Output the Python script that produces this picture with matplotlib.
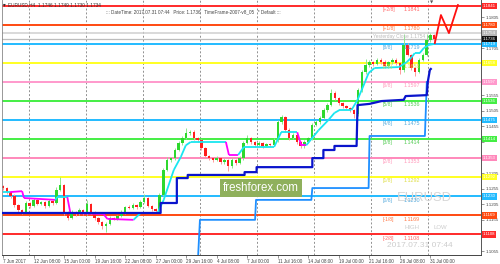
import numpy as np
import matplotlib.pyplot as plt
from matplotlib.collections import LineCollection

plt.rcParams['font.family'] = ['Liberation Sans', 'DejaVu Sans']

# H4 candles, one entry per 2 bars
closes = [
    1.1257, 1.1244, 1.1232, 1.1203, 1.1187, 1.1180, 1.1209, 1.1200, 1.1219, 1.1206,
    1.1212, 1.1200, 1.1216, 1.1209, 1.1251, 1.1267, 1.1180, 1.1161, 1.1180, 1.1174,
    1.1187, 1.1174, 1.1206, 1.1180, 1.1161, 1.1148, 1.1135, 1.1142, 1.1161, 1.1158,
    1.1167, 1.1180, 1.1196, 1.1193, 1.1203, 1.1196, 1.1212, 1.1225, 1.1200, 1.1190,
    1.1183, 1.1235, 1.1315, 1.1347, 1.1353, 1.1379, 1.1401, 1.1417, 1.1433, 1.1437,
    1.1417, 1.1411, 1.1385, 1.1359, 1.1353, 1.1347, 1.1353, 1.1340, 1.1347, 1.1327,
    1.1347, 1.1337, 1.1353, 1.1401, 1.1417, 1.1405, 1.1395, 1.1401, 1.1392, 1.1398,
    1.1395, 1.1411, 1.1469, 1.1485, 1.1443, 1.1417, 1.1427, 1.1405, 1.1392, 1.1405,
    1.1417, 1.1459, 1.1469, 1.1481, 1.1507, 1.1523, 1.1562, 1.1546, 1.1530, 1.1520,
    1.1514, 1.1507, 1.1494, 1.1572, 1.1629, 1.1652, 1.1661, 1.1655, 1.1668, 1.1661,
    1.1648, 1.1661, 1.1668, 1.1658, 1.1636, 1.1716, 1.1684, 1.1642, 1.1629, 1.1668,
    1.1684, 1.1732, 1.1748, 1.1735]
first_open = 1.1262
# wick lengths in pips
wick_up = [
    5, 4, 3, 6, 3, 4, 6, 3, 5, 4,
    5, 4, 6, 3, 8, 25, 4, 3, 6, 4,
    5, 3, 14, 4, 3, 3, 4, 5, 6, 4,
    5, 6, 4, 5, 6, 4, 8, 13, 4, 3,
    4, 6, 6, 8, 5, 6, 8, 7, 15, 6,
    5, 4, 4, 3, 5, 4, 6, 4, 5, 3,
    5, 4, 6, 8, 10, 5, 4, 6, 4, 5,
    4, 8, 6, 7, 4, 5, 6, 4, 3, 5,
    4, 6, 5, 6, 7, 8, 14, 5, 4, 4,
    4, 3, 4, 6, 8, 20, 6, 5, 7, 5,
    6, 5, 6, 5, 4, 36, 5, 4, 4, 6,
    5, 20, 6, 4]
wick_dn = [
    6, 5, 7, 6, 8, 5, 4, 6, 4, 5,
    4, 6, 4, 5, 4, 5, 8, 6, 4, 6,
    4, 5, 4, 6, 7, 6, 8, 18, 4, 5,
    4, 3, 5, 4, 4, 5, 4, 4, 5, 6,
    5, 4, 5, 4, 6, 5, 4, 5, 4, 6,
    5, 6, 6, 5, 6, 5, 4, 6, 5, 16,
    5, 6, 4, 5, 4, 6, 5, 4, 6, 4,
    5, 4, 6, 5, 6, 5, 4, 6, 6, 5,
    4, 5, 4, 6, 4, 5, 4, 5, 6, 5,
    5, 6, 12, 5, 6, 5, 6, 5, 4, 6,
    5, 6, 5, 6, 13, 6, 5, 6, 14, 4,
    5, 5, 6, 7]

# trend line (cyan rising / magenta falling), x in H4 bars
ma_x = [0, 3.7, 10, 11, 27.4, 28.4, 33.7, 35.3, 52.6, 54.7, 68.4, 72.1, 81, 84.2,
        89.5, 93.2, 95.8, 98.4, 116.8, 118.4, 123.2, 126.3, 142.1, 145.8, 154.2,
        156.3, 158.9, 165.3, 170.5, 173.7, 176.3, 182.6, 185.8, 189.5, 191.6,
        194.7, 207.4, 211.6, 214.2, 215.8, 218.4, 220.5, 223.2, 225.8]
ma_y = [1.1244, 1.1244, 1.1247, 1.1225, 1.1219, 1.1228, 1.1228, 1.1177, 1.1174,
        1.1158, 1.1155, 1.1177, 1.1177, 1.1219, 1.1315, 1.1357, 1.1394, 1.1405,
        1.1405, 1.1363, 1.1363, 1.1389, 1.1389, 1.1436, 1.1436, 1.1394, 1.1394,
        1.1442, 1.1475, 1.1498, 1.1507, 1.1507, 1.1540, 1.1594, 1.1626, 1.1642,
        1.1645, 1.1661, 1.1677, 1.1690, 1.1690, 1.1706, 1.1716, 1.1719]
ma_falling = [1, 2, 3, 6, 7, 8, 9, 18, 19, 24, 25]

# stepped lines
slow_x = [-0.5, 82.6, 82.6, 91.1, 91.1, 96.8, 96.8, 126.6, 126.6, 132.9, 132.9,
          162.1, 162.1, 167.9, 167.9, 173.7, 173.7, 185.3, 185.8, 192.1, 198.4,
          210, 211, 222.1, 222.6, 223.7, 224.2]
slow_y = [1.1177, 1.1177, 1.1209, 1.1209, 1.1289, 1.1289, 1.1299, 1.1299, 1.1308,
          1.1308, 1.1324, 1.1324, 1.1353, 1.1353, 1.1379, 1.1379, 1.1392, 1.1392,
          1.1523, 1.1527, 1.1536, 1.1540, 1.1552, 1.1555, 1.1597, 1.1636, 1.1639]
fast_x = [102.1, 103.2, 132.1, 132.6, 161.6, 162.1, 191.6, 192.1, 221.1, 222.1]
fast_y = [1.1020, 1.1155, 1.1155, 1.1219, 1.1219, 1.1257, 1.1257, 1.1424, 1.1424, 1.1597]

# forecast zigzag
fc_x = [226.3, 229.5, 233.7, 238.4]
fc_y = [1.1722, 1.1812, 1.1754, 1.1844]

levels = [1.1841, 1.1780, 1.1719, 1.1658, 1.1597, 1.1536, 1.1475, 1.1414,
          1.1353, 1.1292, 1.1230, 1.1169, 1.1108]
level_names = ['[+2/8]', '[+1/8]', '[8/8]', '[7/8]', '[6/8]', '[5/8]', '[4/8]',
               '[3/8]', '[2/8]', '[1/8]', '[0/8]', '[-1/8]', '[-2/8]']
level_colors = ['#ff2a2a', '#ff4a10', '#22bbff', '#ffff22', '#ff99cc', '#44ee44',
                '#22bbff', '#44ee44', '#ff88bb', '#ffff22', '#22bbff', '#ff4a10', '#ff2a2a']
level_text = ['#ff6666', '#ff7744', '#55aadd', '#dddd44', '#ff99bb', '#55cc55',
              '#55aadd', '#55cc55', '#ff99bb', '#dddd44', '#55aadd', '#ff7744', '#ff6666']
yest_close = 1.1754
bid = 1.1736

xlabels = ['7 Jun 2017', '12 Jun 08:00', '15 Jun 00:00', '19 Jun 16:00',
           '22 Jun 08:00', '27 Jun 00:00', '29 Jun 16:00', '4 Jul 08:00',
           '7 Jul 00:00', '11 Jul 16:00', '14 Jul 08:00', '19 Jul 00:00',
           '21 Jul 16:00', '26 Jul 08:00', '31 Jul 00:00']

fig = plt.figure(figsize=(5.0, 2.64), dpi=100)
ax = fig.add_axes([2 / 500, 9 / 264, 479 / 500, 255 / 264])
ax.set_xlim(-0.53, 250.5)
ax.set_ylim(1.10422, 1.18602)

# grid
for k in range(8):
    ax.axvline(13.8 + 29.84 * k, color='#909090', lw=0.7, ls=(0, (2, 2)), zorder=0)

# murrey levels
box = dict(boxstyle='square,pad=0.25', ec='none')
for lv, nm, c, tc in zip(levels, level_names, level_colors, level_text):
    ax.axhline(lv, color=c, lw=1.4, zorder=1)
    ax.text(199, lv - 0.0004, nm, fontsize=3.6, color=tc, va='top', ha='left', zorder=5)
    ax.text(210, lv - 0.0004, '%.4f' % lv, fontsize=3.9, color=tc, va='top', ha='left', zorder=5)
    ax.text(1.004, lv, '%.4f' % lv, transform=ax.get_yaxis_transform(), fontsize=3.1,
            color='white', va='center', ha='left', bbox=dict(box, fc=c), zorder=6)

ax.axhline(yest_close, color='#cfcfcf', lw=1.1, zorder=1)
ax.axhline(bid, color='#bdbdbd', lw=0.9, zorder=1)
ax.text(194, yest_close - 0.0002, 'Yesterday Close %.4f' % yest_close, fontsize=3.5,
        color='#bbbbbb', va='top', zorder=5)
ax.text(1.004, yest_close, '%.4f' % yest_close, transform=ax.get_yaxis_transform(),
        fontsize=3.1, color='white', va='center', bbox=dict(box, fc='#b8b8b8'), zorder=6)
ax.text(1.004, bid, '%.4f' % bid, transform=ax.get_yaxis_transform(),
        fontsize=3.1, color='white', va='center', bbox=dict(box, fc='#111111'), zorder=7)

# candles
c = np.array(closes)
o = np.concatenate([[first_open], c[:-1]])
hi = np.maximum(o, c) + np.array(wick_up) * 0.0001
lo = np.minimum(o, c) - np.array(wick_dn) * 0.0001
x = np.arange(len(c)) * 2.0
up = c >= o
ax.vlines(x[up], lo[up], hi[up], color='#8ee88e', lw=0.7, zorder=2)
ax.vlines(x[~up], lo[~up], hi[~up], color='#ff9a9a', lw=0.7, zorder=2)
body = np.where(np.abs(c - o) < 0.0002, 0.0002, c - o)
ax.bar(x[up], body[up], bottom=o[up], width=1.3, color='#2ed82e', zorder=2.5)
ax.bar(x[~up], body[~up], bottom=o[~up], width=1.3, color='#ff1e1e', zorder=2.5)

# indicators
ma_colors = ['#ff00ff' if i in ma_falling else '#19e6f0' for i in range(len(ma_x) - 1)]
segs = [[(ma_x[i], ma_y[i]), (ma_x[i + 1], ma_y[i + 1])] for i in range(len(ma_x) - 1)]
ax.add_collection(LineCollection(segs, colors=ma_colors, lw=1.3, zorder=3))
ax.plot(fast_x, fast_y, color='#1e8fff', lw=1.3, zorder=3)
ax.plot(slow_x, slow_y, color='#0a14cc', lw=1.6, zorder=3.2)
ax.plot(fc_x, fc_y, color='#ff1010', lw=1.3, zorder=4)

# watermarks
ax.text(206.3, 1.1224, 'EURUSD', fontsize=9.4, color='#d6d6d6', va='center', zorder=1.5)
ax.text(210.5, 1.1132, 'HIGH', fontsize=4.3, color='#cccccc', va='center', zorder=1.5)
ax.text(225.8, 1.1132, 'LOW', fontsize=4.3, color='#cccccc', va='center', zorder=1.5)
ax.text(201, 1.1074, '2017.07.31 07:44', fontsize=6, color='#cdcdcd', va='center', zorder=1.5)
ax.text(115.3, 1.1256, 'freshforex.com', fontsize=8.3, color='white',
        va='center', ha='left', zorder=8,
        bbox=dict(boxstyle='square,pad=0.25', fc='#8fb05c', ec='none'))

# axes styling
ax.spines['top'].set_visible(False)
ax.spines['left'].set_color('#888888')
ax.spines['left'].set_linewidth(0.6)
ax.spines['right'].set_color('#555555')
ax.spines['right'].set_linewidth(0.7)
ax.spines['bottom'].set_color('#444444')
ax.spines['bottom'].set_linewidth(0.7)

ax.set_xticks(np.arange(len(xlabels)) * 16)
ax.set_xticklabels(xlabels, fontsize=3.3, ha='left', color='#333333')
ax.tick_params(axis='x', length=2, width=0.4, pad=1, colors='#444444')

# price scale ticks, hidden where a level box covers them
boxed = levels + [yest_close, bid]
yt = [round(v, 4) for v in np.arange(1.1055, 1.1806, 0.005)]
ax.yaxis.tick_right()
ax.set_yticks(yt)
ax.set_yticklabels(['' if min(abs(v - b) for b in boxed) < 0.0013 else '%.4f' % v for v in yt],
                   fontsize=3.2, color='#333333')
ax.tick_params(axis='y', length=2, width=0.4, pad=1, colors='#444444')

fig.text(3 / 500, 1 - 5 / 264, '\u25be', fontsize=4, color='#333333', va='center',
         family=['DejaVu Sans'])
fig.text(8 / 500, 1 - 5 / 264, 'EURUSD,H4  1.1746 1.1749 1.1730 1.1734', fontsize=3.4,
         color='#333333', va='center')
fig.text(106 / 500, 1 - 12 / 264,
         '::: DateTime: 2017.07.31 07:44   Price: 1.1736   TimeFrame-2007-v8_05   * Default :::',
         fontsize=3.3, color='#444444', va='center')
fig.text(432 / 500, 1 - 2 / 264, '\u25bc', fontsize=3, color='#555555', va='center',
         ha='center', family=['DejaVu Sans'])

fig.savefig('out.png', dpi=100)
